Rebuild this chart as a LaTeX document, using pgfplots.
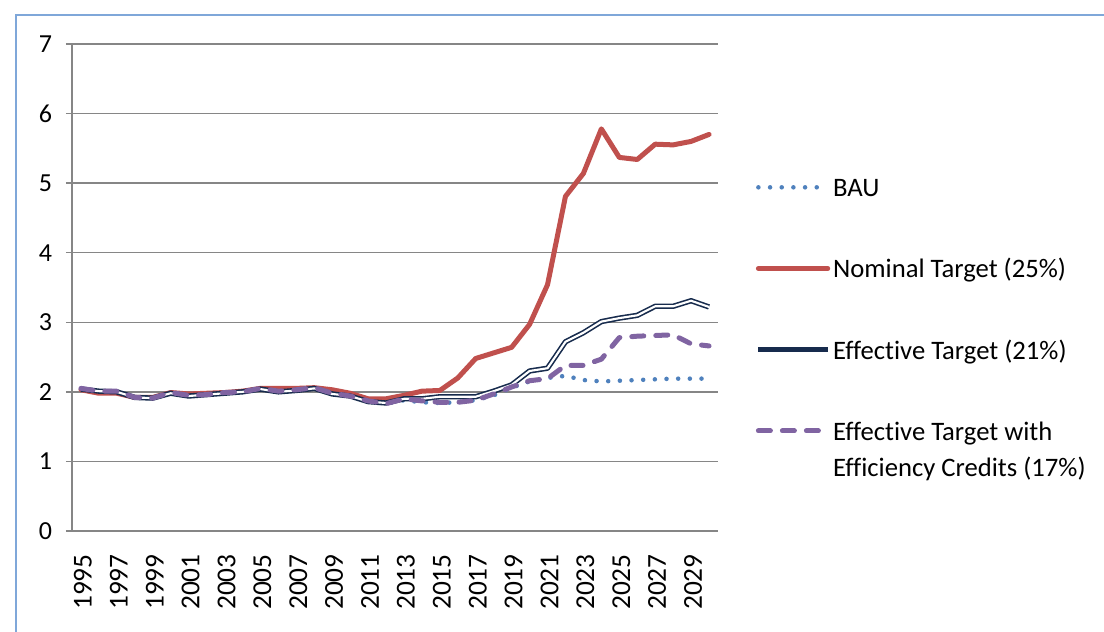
\documentclass[border=0pt]{standalone}
\usepackage{fontspec}
\setmainfont{Carlito}[Ligatures={NoCommon}]
\usepackage{pgfplots}
\usepackage{pgfplotstable}
\pgfplotsset{compat=1.18}
\definecolor{bau}{HTML}{4F81BD}
\definecolor{nom}{HTML}{C0504D}
\definecolor{eff}{HTML}{172B4D}
\definecolor{cred}{HTML}{8064A2}
\definecolor{gridc}{HTML}{868686}
\definecolor{framec}{HTML}{7FA7D9}
\newcommand\lstrut{\rule[-5.5pt]{0pt}{21pt}}
\pgfplotstableread{
year bau nom eff cred
1995 2.04 2.03 2.04 2.05
1996 2.01 1.98 2.01 2.01
1997 2.00 1.98 2.00 2.01
1998 1.92 1.92 1.92 1.92
1999 1.91 1.92 1.91 1.91
2000 1.98 1.99 1.98 1.99
2001 1.94 1.97 1.94 1.95
2002 1.96 1.98 1.96 1.96
2003 1.98 1.99 1.98 1.99
2004 2.00 2.01 2.00 2.00
2005 2.04 2.05 2.04 2.05
2006 2.00 2.05 2.00 2.01
2007 2.02 2.05 2.02 2.03
2008 2.05 2.06 2.05 2.06
2009 1.97 2.03 1.97 1.98
2010 1.94 1.98 1.94 1.94
2011 1.86 1.90 1.86 1.87
2012 1.83 1.90 1.84 1.83
2013 1.88 1.95 1.90 1.90
2014 1.85 2.01 1.90 1.87
2015 1.84 2.02 1.93 1.85
2016 1.85 2.20 1.93 1.85
2017 1.88 2.48 1.93 1.88
2018 1.95 2.56 2.01 1.97
2019 2.06 2.64 2.10 2.07
2020 2.15 2.97 2.30 2.16
2021 2.20 3.54 2.34 2.19
2022 2.23 4.81 2.72 2.38
2023 2.17 5.14 2.85 2.38
2024 2.15 5.78 3.01 2.47
2025 2.16 5.37 3.06 2.78
2026 2.17 5.34 3.10 2.80
2027 2.18 5.56 3.23 2.81
2028 2.19 5.55 3.23 2.82
2029 2.19 5.60 3.31 2.69
2030 2.19 5.70 3.22 2.66
}\datatable
\begin{document}
\begin{tikzpicture}
\useasboundingbox (0,0) rectangle (828pt,474pt);
\draw[framec, line width=0.8pt] (12pt,-10pt) -- (12pt,462.75pt) -- (850pt,462.75pt);
\begin{axis}[
  at={(54pt,75.75pt)}, anchor=south west,
  scale only axis, width=484.5pt, height=365.25pt,
  xmin=1994.5, xmax=2030.5, ymin=0, ymax=7,
  ytick={0,1,...,7},
  xtick={1995,1997,...,2029},
  minor xtick={1994.5,1995.5,...,2030.5},
  xticklabel={\pgfmathprintnumber[1000 sep=]{\tick}},
  /pgf/number format/assume math mode=true,
  axis lines*=left,
  axis line style={gridc, line width=1pt},
  tick align=outside,
  major tick length=4.5pt, minor tick length=4.5pt,
  xtick style={draw=none},
  ytick style={gridc, line width=1pt},
  minor x tick style={gridc, line width=1pt},
  ymajorgrids, grid style={gridc, line width=1pt},
  yticklabel style={font=\fontsize{19.5}{23.4}\selectfont},
  yticklabel shift=7pt,
  xticklabel style={font=\fontsize{20.5}{24}\selectfont, xshift=1.5pt, rotate=90, anchor=east},
  xticklabel shift=9.5pt,
  legend cell align=left,
  legend image code/.code={\draw[#1] (0pt,0pt) -- (52pt,0pt);},
  legend style={at={(1.058,0.735)}, anchor=north west, draw=none, fill=none,
    inner sep=0pt, row sep=39.9pt, column sep=0pt,
    nodes={inner sep=2pt},
    font=\fontsize{20}{27.3}\selectfont},
]
\addplot[bau, line width=3.4pt, line cap=round, dash pattern=on 0pt off 8.75pt] table[x=year, y=bau] {\datatable};
\addlegendentry{\lstrut BAU}
\addplot[nom, line width=3.75pt, line cap=round, line join=round] table[x=year, y=nom] {\datatable};
\addlegendentry{\lstrut Nominal Target (25\%)}
\addplot[eff, line width=4pt, line join=round] table[x=year, y=eff] {\datatable};
\addlegendentry{\lstrut Effective Target (21\%)}
\addplot[white, line width=1.6pt, line join=round, forget plot] table[x=year, y=eff] {\datatable};
\addplot[cred, line width=3.75pt, line cap=round, line join=round, dash pattern=on 9pt off 9pt] table[x=year, y=cred] {\datatable};
\addlegendentry{\raisebox{0pt}[\height][5.5pt]{\parbox[t]{200pt}{\lstrut Effective Target with\\Efficiency Credits (17\%)}}}
\end{axis}
\end{tikzpicture}
\end{document}
